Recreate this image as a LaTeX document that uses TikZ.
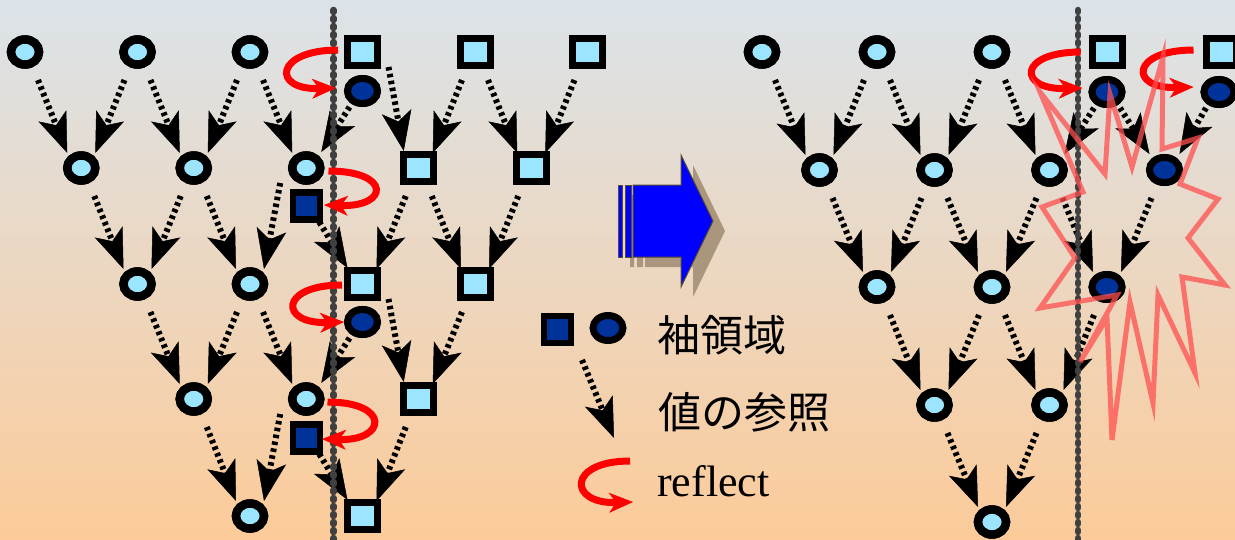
\documentclass[tikz,border=0pt]{standalone}
\usepackage{fontspec}
\setmainfont{Liberation Serif}
\newfontfamily\jpfont{Noto Sans CJK JP}
\usetikzlibrary{arrows.meta,shapes.geometric}

\definecolor{bgtop}{RGB}{219,227,233}
\definecolor{bgbot}{RGB}{252,203,153}
\definecolor{cellfill}{RGB}{155,229,255}
\definecolor{halofill}{RGB}{0,51,153}
\definecolor{sepgray}{RGB}{64,64,64}
\definecolor{shadowtan}{RGB}{170,150,125}
\definecolor{arrowedge}{RGB}{90,74,46}
\definecolor{burst}{RGB}{255,80,80}

\begin{document}
\begin{tikzpicture}[x=1pt,y=-1pt,
  cell/.style={ellipse,draw=black,line width=8.5pt,fill=cellfill,minimum width=28pt,minimum height=25pt,inner sep=0pt},
  sqcell/.style={rectangle,draw=black,line width=7pt,fill=cellfill,minimum width=30pt,minimum height=27pt,inner sep=0pt},
  halo/.style={ellipse,draw=black,line width=7pt,fill=halofill,minimum width=30pt,minimum height=25pt,inner sep=0pt},
  sqhalo/.style={rectangle,draw=black,line width=6.5pt,fill=halofill,minimum width=27pt,minimum height=27pt,inner sep=0pt},
  valref/.style={draw=black,line width=6pt,dash pattern=on 3.5pt off 3.5pt,
    -{Stealth[length=40pt,width=30pt,inset=10pt,line width=0.5pt]}},
  reflect/.style={draw=red,line width=7pt,
    -{Stealth[length=24pt,width=20pt,inset=7pt,line width=0.5pt]}},
  divider/.style={draw=sepgray,line width=6.5pt,line cap=round,dash pattern=on 2pt off 6pt},
  legendtext/.style={inner sep=0pt,font=\jpfont\fontsize{43}{43}\selectfont}
]
\clip (0,0) rectangle (1235,539);
\shade[top color=bgtop,bottom color=bgbot] (0,0) rectangle (1235,539);

% ---------- left tree: boundary at x = 333 ----------
\node[cell]   (a0) at (25,52) {};
\node[cell]   (a1) at (137.5,52) {};
\node[cell]   (a2) at (250,52) {};
\node[sqcell] (a3) at (362.5,52) {};
\node[sqcell] (a4) at (475,52) {};
\node[sqcell] (a5) at (587.5,52) {};
\node[halo]   (gA) at (362.5,91) {};

\node[cell]   (b0) at (81.25,168) {};
\node[cell]   (b1) at (193.75,168) {};
\node[cell]   (b2) at (306.25,168) {};
\node[sqcell] (b3) at (418.75,168) {};
\node[sqcell] (b4) at (531.25,168) {};
\node[sqhalo] (gB) at (306.25,206) {};

\node[cell]   (c0) at (137.5,284) {};
\node[cell]   (c1) at (250,284) {};
\node[sqcell] (c2) at (362.5,284) {};
\node[sqcell] (c3) at (475,284) {};
\node[halo]   (gC) at (362.5,322) {};

\node[cell]   (d0) at (193.75,399) {};
\node[cell]   (d1) at (306.25,399) {};
\node[sqcell] (d2) at (418.75,399) {};
\node[sqhalo] (gD) at (306.25,438) {};

\node[cell]   (e0) at (250,516) {};
\node[sqcell] (e1) at (362.5,516) {};

% ---------- right tree: boundary at x = 1078 ----------
\node[cell]   (p0) at (762,52) {};
\node[cell]   (p1) at (877,52) {};
\node[cell]   (p2) at (992,52) {};
\node[sqcell] (p3) at (1107,52) {};
\node[sqcell] (p4) at (1221,52) {};
\node[halo]   (q1) at (1107,92) {};
\node[halo]   (q2) at (1219,92) {};

\node[cell]   (r0) at (819.5,170) {};
\node[cell]   (r1) at (934.5,170) {};
\node[cell]   (r2) at (1049.5,170) {};
\node[halo]   (r3) at (1164.5,170) {};

\node[cell]   (s0) at (877,287) {};
\node[cell]   (s1) at (992,287) {};
\node[halo]   (s2) at (1107,287) {};

\node[cell]   (t0) at (934.5,405) {};
\node[cell]   (t1) at (1049.5,405) {};

\node[cell]   (u0) at (992,522) {};

% ---------- value references (dotted arrows) ----------
\foreach \p/\c in {a0/b0,a1/b1,a2/b2,a4/b4,b0/c0,b1/c1,b3/c3,c0/d0,c1/d1,d0/e0,
                   p0/r0,p1/r1,p2/r2,r0/s0,r1/s1,r2/s2,s0/t0,s1/t1,t0/u0}
  \draw[valref] ([shift={(13,28)}]\p.center) -- ([shift={(-14,-15)}]\c.center);
\foreach \p/\c in {a1/b0,a2/b1,a4/b3,a5/b4,b1/c0,b3/c2,b4/c3,c1/d0,c3/d2,d2/e1,
                   p1/r0,p2/r1,r1/s0,r2/s1,r3/s2,s1/t0,s2/t1,t1/u0}
  \draw[valref] ([shift={(-13,28)}]\p.center) -- ([shift={(14,-15)}]\c.center);
% parents with a halo cell right below them
\foreach \p/\c in {a3/b3,c2/d2}
  \draw[valref] ([shift={(26,15)}]\p.center) -- ([shift={(-15,-17)}]\c.center);
\foreach \p/\c in {b2/c1,d1/e0}
  \draw[valref] ([shift={(-26,15)}]\p.center) -- ([shift={(14,-15)}]\c.center);
% halo cells as sources
\foreach \p/\c in {gB/c2,gD/e1,q1/r3}
  \draw[valref] ([shift={(13,16)}]\p.center) -- ([shift={(-15,-16)}]\c.center);
\foreach \p/\c in {gA/b2,gC/d1,q1/r2,q2/r3}
  \draw[valref] ([shift={(-13,16)}]\p.center) -- ([shift={(15,-16)}]\c.center);

% ---------- process boundaries ----------
\draw[divider] (333.5,10) -- (333.5,545);
\draw[divider] (1078,10) -- (1078,545);

% redraw nodes above the boundaries and arrows
\foreach \n in {a0,a1,a2,b0,b1,b2,c0,c1,d0,d1,e0,p0,p1,p2,r0,r1,r2,s0,s1,t0,t1,u0}
  \path (\n) node[cell] {};
\foreach \n in {a3,a4,a5,b3,b4,c2,c3,d2,e1,p3,p4}
  \path (\n) node[sqcell] {};
\foreach \n in {gA,gC,q1,q2,r3,s2}
  \path (\n) node[halo] {};
\foreach \n in {gB,gD}
  \path (\n) node[sqhalo] {};

% ---------- reflections ----------
\draw[reflect] ([shift={(-6,-2)}]a3.west) .. controls +(-63,0) and +(-65,2) .. ([shift={(-8,-3)}]gA.west);
\draw[reflect] ([shift={(4,3)}]b2.east) .. controls +(63,0) and +(65,2) .. ([shift={(1,-1)}]gB.east);
\draw[reflect] ([shift={(-2,1)}]c2.west) .. controls +(-63,0) and +(-65,2) .. ([shift={(0,0)}]gC.west);
\draw[reflect] ([shift={(3,3)}]d1.east) .. controls +(63,0) and +(65,2) .. ([shift={(-1,1)}]gD.east);
\draw[reflect] ([shift={(-8,0)}]p3.west) .. controls +(-63,0) and +(-65,2) .. ([shift={(-6,-4)}]q1.west);
\draw[reflect] ([shift={(-9,-2)}]p4.west) .. controls +(-63,0) and +(-65,2) .. ([shift={(-7,-5)}]q2.west);

% ---------- transformation arrow ----------
\begin{scope}[shift={(12,10)}]
  \fill[shadowtan] (618,185) rectangle (622,257) (625,185) rectangle (631,257);
  \fill[shadowtan] (633,185) -- (681,185) -- (681,155) -- (713,221) -- (681,287) -- (681,257) -- (633,257) -- cycle;
\end{scope}
\filldraw[fill=blue,draw=arrowedge,line width=1pt]
  (618,185) rectangle (622,257) (625,185) rectangle (631,257);
\filldraw[fill=blue,draw=arrowedge,line width=1pt]
  (633,185) -- (681,185) -- (681,155) -- (713,221) -- (681,287) -- (681,257) -- (633,257) -- cycle;

% ---------- legend ----------
\node[sqhalo] (lsq) at (557.5,329.5) {};
\node[halo]   (lci) at (608,328) {};
\node[legendtext] (lt1) at (722,335) {袖領域};
\coordinate (lv1) at (582,360);
\coordinate (lv2) at (614,438);
\draw[valref] (lv1) -- (lv2);
\node[legendtext] (lt2) at (744,412) {値の参照};
\coordinate (lr1) at (630,461);
\coordinate (lr2) at (633,502);
\draw[reflect] (lr1) .. controls +(-63,0) and +(-65,2) .. (lr2);
\node[inner sep=0pt,anchor=base west,font=\fontsize{44}{44}\selectfont] (lt3) at (657,496) {reflect};

% ---------- conflict burst ----------
\draw[burst,draw opacity=0.75,line width=5pt,line join=miter]
  (1040,92) -- (1105,174) -- (1110,94) -- (1132,167) -- (1163,57) -- (1162,149)
  -- (1198,138) -- (1180,184) -- (1218,199) -- (1188,238) -- (1225,285) -- (1182,277)
  -- (1195,373) -- (1158,295) -- (1153,403) -- (1130,302) -- (1112,440) -- (1107,318)
  -- (1080,362) -- (1117,295) -- (1040,308) -- (1075,258) -- (1042,207) -- (1083,192)
  -- cycle;
\end{tikzpicture}
\end{document}
